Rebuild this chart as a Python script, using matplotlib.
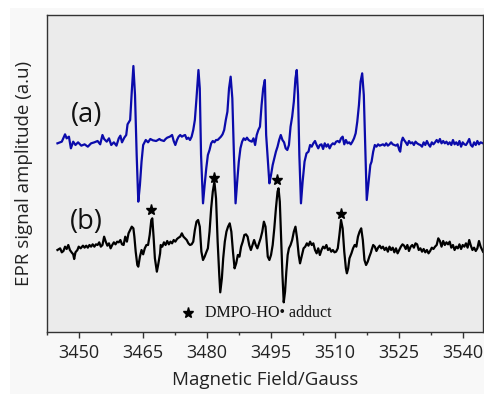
import matplotlib
matplotlib.use("Agg")
import matplotlib.pyplot as plt
from matplotlib.patches import Rectangle

plt.rcParams['font.family'] = ['Open Sans', 'DejaVu Sans']

# ---------------- data ----------------
tick_values = [3450, 3465, 3480, 3495, 3510, 3525, 3540]
series_labels = ["(a)", "(b)"]
legend_label = "DMPO-HO\u2022 adduct"

blue_field = [
    3444.95, 3445.97, 3446.73, 3447.11, 3447.64, 3448.10, 3448.64, 3449.17, 3449.78, 3450.54,
    3451.31, 3452.07, 3452.83, 3453.60, 3454.36, 3454.97, 3455.50, 3455.89, 3456.50, 3457.03,
    3457.56, 3458.17, 3458.78, 3459.32, 3459.70, 3460.08, 3460.62, 3461.07, 3461.38, 3461.99,
    3462.37, 3462.75, 3463.13, 3463.52, 3463.90, 3464.28, 3464.66, 3465.04, 3465.65, 3466.19,
    3466.72, 3467.33, 3468.09, 3468.86,
    3469.15, 3469.91, 3470.29, 3470.68, 3471.29, 3471.82, 3472.20, 3472.58, 3472.97, 3473.35,
    3473.73, 3474.11, 3474.49, 3474.87, 3475.25, 3475.64, 3476.02, 3476.40, 3476.78, 3477.16,
    3477.54, 3478.00, 3478.31, 3478.61, 3479.07, 3479.45, 3479.83, 3480.21, 3480.60, 3480.98,
    3481.36, 3481.74, 3482.12, 3482.50, 3482.88, 3483.27, 3483.65, 3484.03, 3484.41, 3484.79,
    3485.17, 3485.55, 3485.94, 3486.32, 3486.70, 3487.08, 3487.46, 3487.84, 3488.23, 3488.61,
    3488.99, 3489.37, 3489.75, 3490.13, 3490.51, 3490.90, 3491.28, 3491.66, 3492.04, 3492.42,
    3492.80, 3493.18, 3493.57,
    3493.87, 3494.63, 3495.01, 3495.40, 3495.78, 3496.16, 3496.54, 3496.92, 3497.30, 3497.69,
    3498.07, 3498.45, 3498.83, 3499.21, 3499.59, 3499.97, 3500.36, 3500.74, 3501.04, 3501.35,
    3501.65, 3502.03, 3502.42, 3502.87, 3503.33, 3503.79, 3504.17, 3504.55, 3504.93, 3505.32,
    3505.70, 3506.08, 3506.46, 3506.84, 3507.22, 3507.60, 3507.99, 3508.37, 3508.75, 3509.13,
    3509.51, 3509.89, 3510.27, 3510.66, 3511.04, 3511.42, 3511.80, 3512.18, 3512.56, 3512.95,
    3513.33, 3513.71, 3514.09, 3514.47, 3514.85, 3515.23, 3515.62, 3516.00, 3516.38, 3516.76,
    3517.14, 3517.45, 3517.90, 3518.29,
    3518.58, 3518.96, 3519.34, 3519.72, 3520.11, 3520.49, 3520.87, 3521.25, 3521.63, 3522.01,
    3522.40, 3522.78, 3523.16, 3523.54, 3523.92, 3524.30, 3524.68, 3525.07, 3525.29, 3525.60,
    3525.90, 3526.21, 3526.59, 3526.97, 3527.35, 3527.74, 3528.12, 3528.50, 3528.88, 3529.26,
    3529.64, 3530.03, 3530.41, 3530.79, 3531.17, 3531.55, 3531.93, 3532.31, 3532.70, 3533.08,
    3533.46, 3533.84, 3534.22, 3534.60, 3534.98, 3535.37, 3535.75, 3536.13, 3536.51, 3536.89,
    3537.27, 3537.66, 3538.04, 3538.42, 3538.80, 3539.18, 3539.56, 3539.94, 3540.33, 3540.71,
    3541.09, 3541.47, 3541.85, 3542.23, 3542.61, 3543.00, 3543.38, 3543.76, 3544.14, 3544.70,
]
blue_amp = [
    2, 7, 29, 17, 22, -13, 7, -3, 5, -5,
    -1, -8, 2, 5, 9, -1, 27, 15, 7, 17,
    -3, 5, -5, 17, 25, 5, 19, 27, 59, 72,
    157, 234, 147, -33, -173, -123, -53, -3, 12, 5,
    15, 11, 9, 15,
    12, 9, 15, 19, 22, 27, 9, -3, 12, 22,
    27, 22, 25, 27, 15, 19, 12, 22, 42, 72,
    137, 222, 167, -33, -178, -123, -73, -33, -18, 2,
    9, 5, 12, 12, 17, 22, 29, 42, 72, 97,
    167, 202, 137, -33, -178, -113, -53, -13, 7, 17,
    12, 19, 12, 9, 7, 17, -3, 27, 42, 52,
    117, 167, 192,
    27, -118, -93, -63, -43, -23, -8, 12, 27, 12,
    5, -13, -18, -3, 52, 82, 127, 197, 222, 147,
    -33, -178, -113, -53, -28, -23, -3, -8, 2, 9,
    -3, -13, -3, -1, -15, 2, -8, -1, -13, -3,
    2, -1, 7, 9, 5, 17, 22, -1, 12, 2,
    5, -1, 7, 17, 32, 67, 117, 187, 212, 147,
    -33, -168, -113, -63,
    -53, -23, -3, -8, -1, -5, -3, -1, -5, 2,
    -5, -1, 5, -1, -3, -5, -1, -18, -23, 7,
    19, 12, 5, -3, 9, 2, 5, -3, 7, 2,
    -1, -3, -8, 5, -3, 9, -1, -8, 5, -1,
    5, 12, 5, 15, 2, 9, 2, 7, -1, 5,
    -3, 12, -1, 5, -3, 9, -8, 5, -1, -3,
    5, 15, -3, -8, 5, -3, 9, -1, 5, 2,
]

black_field = [
    3444.95, 3445.58, 3445.97, 3446.35, 3446.73, 3447.11, 3447.49, 3447.87, 3448.26, 3448.64,
    3448.87, 3449.17, 3449.63, 3449.93, 3450.39, 3450.93, 3451.31, 3451.69, 3452.07, 3452.45,
    3452.83, 3453.21, 3453.60, 3453.98, 3454.36, 3454.74, 3455.12, 3455.50, 3455.89, 3456.27,
    3456.65, 3457.03, 3457.41, 3457.79, 3458.17, 3458.56, 3458.94, 3459.32, 3459.70, 3460.08,
    3460.46, 3460.84, 3461.23, 3461.61, 3461.99, 3462.37, 3462.75, 3462.98, 3463.29, 3463.67,
    3463.90, 3464.28, 3464.66, 3465.04, 3465.42, 3465.80, 3466.19, 3466.57, 3466.95, 3467.18,
    3467.48, 3467.79, 3468.25, 3468.55, 3469.01,
    3469.15, 3469.53, 3469.91, 3470.29, 3470.68, 3471.06, 3471.44, 3471.82, 3472.20, 3472.58,
    3472.97, 3473.35, 3473.73, 3474.11, 3474.49, 3474.87, 3475.25, 3475.64, 3476.02, 3476.40,
    3476.78, 3477.16, 3477.54, 3477.92, 3478.31, 3478.69, 3479.07, 3479.45, 3479.83, 3480.21,
    3480.60, 3480.98, 3481.36, 3481.74, 3482.12, 3482.50, 3482.88, 3483.11, 3483.49, 3483.80,
    3484.18, 3484.56, 3484.94, 3485.33, 3485.71, 3486.09, 3486.47, 3486.85, 3487.23, 3487.61,
    3488.00, 3488.38, 3488.76, 3489.14, 3489.52, 3489.90, 3490.29, 3490.67, 3491.05, 3491.43,
    3491.81, 3492.19, 3492.57, 3492.96, 3493.34, 3493.72,
    3494.25, 3494.63, 3495.01, 3495.40, 3495.78, 3496.16, 3496.54, 3496.77, 3497.07, 3497.38,
    3497.69, 3497.99, 3498.30, 3498.60, 3498.91, 3499.21, 3499.59, 3499.97, 3500.36, 3500.74,
    3501.12, 3501.50, 3501.81, 3502.26, 3502.64, 3503.03, 3503.41, 3503.79, 3504.17, 3504.55,
    3504.93, 3505.32, 3505.70, 3506.08, 3506.46, 3506.84, 3507.22, 3507.60, 3507.99, 3508.37,
    3508.75, 3509.13, 3509.51, 3509.89, 3510.27, 3510.66, 3511.04, 3511.42, 3511.80, 3512.18,
    3512.56, 3512.79, 3513.10, 3513.40, 3513.86, 3514.24, 3514.62, 3515.01, 3515.39, 3515.77,
    3516.15, 3516.53, 3516.91, 3517.29, 3517.68, 3518.06, 3518.44,
    3518.58, 3518.96, 3519.34, 3519.72, 3520.11, 3520.49, 3520.87, 3521.25, 3521.63, 3522.01,
    3522.40, 3522.78, 3523.16, 3523.54, 3523.92, 3524.30, 3524.68, 3525.07, 3525.45, 3525.83,
    3526.21, 3526.59, 3526.97, 3527.35, 3527.74, 3528.12, 3528.50, 3528.88, 3529.26, 3529.64,
    3530.03, 3530.41, 3530.79, 3531.17, 3531.55, 3531.93, 3532.31, 3532.70, 3533.08, 3533.46,
    3533.84, 3534.22, 3534.60, 3534.98, 3535.37, 3535.75, 3536.13, 3536.51, 3536.89, 3537.27,
    3537.66, 3538.04, 3538.42, 3538.80, 3539.18, 3539.56, 3539.94, 3540.33, 3540.71, 3541.09,
    3541.47, 3541.85, 3542.23, 3542.61, 3543.00, 3543.38, 3543.76, 3544.14, 3544.70,
]
black_amp = [
    0, 5, -7, -3, 10, 3, 15, 0, -7, -13,
    -27, -7, 0, 10, 5, 13, 7, 13, 7, 15,
    10, 17, 10, 17, 15, 23, 10, 15, 40, 25,
    13, 20, 5, 15, 23, 17, 25, 23, 30, 17,
    15, 40, 25, 50, 60, 70, 65, 40, -5, -45,
    -50, -20, 0, -13, 5, 15, 15, 45, 90, 95,
    40, -25, -65, -45, -10,
    15, 10, 23, 15, 27, 17, 25, 20, 30, 25,
    33, 37, 40, 50, 40, 35, 30, 20, 15, 17,
    25, 60, 85, 90, 70, -5, -30, -20, -7, 5,
    55, 125, 175, 205, 155, 25, -75, -127, -85, -25,
    25, 55, 70, 80, 55, -5, -55, -40, -15, -20,
    10, 25, 45, 47, 40, 15, 0, 15, 30, 15,
    5, 20, 35, 55, 85, 70,
    -20, -30, -15, 15, 65, 125, 175, 185, 145, 35,
    -75, -157, -125, -65, -15, 5, 15, 30, 55, 70,
    35, -15, -40, -15, 5, 10, 20, 13, 25, 15,
    20, 0, -10, 5, -15, 0, 10, 5, 15, 0,
    5, -5, 0, -7, -5, 5, 45, 90, 65, -5,
    -55, -70, -55, -25, -10, 5, 15, 10, 40, 55,
    65, 30, -30, -45, -35, -20, -7,
    0, 15, 10, -3, 7, 13, 5, 10, 0, 7,
    -5, 10, 0, 7, -7, 5, -10, 0, 10, 17,
    13, 3, 15, -3, 10, 15, 7, 20, 17, 0,
    5, -5, 3, -7, 0, -10, -3, 7, 3, 10,
    15, 35, 27, 10, 27, 15, 23, 17, 25, 7,
    15, 0, 10, 5, 17, 3, 15, 10, 20, 7,
    30, 13, 0, 7, -3, 5, 27, 10, -5,
]

star_field = [3466.80, 3481.74, 3496.39, 3511.33]
star_amp = [120, 215, 210, 107]

# ---------------- figure ----------------
W, H, DPI = 485, 394, 100
fig = plt.figure(figsize=(W / DPI, H / DPI), dpi=DPI, facecolor="white")
fig.patches.append(Rectangle((10 / W, 0), 1 - 10 / W, 1 - 8 / H, transform=fig.transFigure,
                             facecolor="#f8f8f8", edgecolor="none", zorder=-10))

ax = fig.add_axes([47 / W, 1 - 332 / H, (483 - 47) / W, (332 - 15) / H])
ax.set_facecolor("#ebebeb")

blue_offset = 564
black_offset = 246

ax.plot(blue_field, [blue_offset + v for v in blue_amp], color="#0b0bab", lw=1.6,
        solid_joinstyle="round")
ax.plot(black_field, [black_offset + v for v in black_amp], color="#000000", lw=1.6,
        solid_joinstyle="round")
ax.plot(star_field, [black_offset + v for v in star_amp], linestyle="none", marker="*",
        color="black", markersize=8)

ax.text(3451.76, 650, series_labels[0], fontsize=19.5, ha="center", va="center", color="#111111")
ax.text(3451.76, 330, series_labels[1], fontsize=19.5, ha="center", va="center", color="#111111")

# legend-like annotation
ax.plot([3475.56], [57], linestyle="none", marker="*", color="black", markersize=8)
ax.text(3479.45, 57, legend_label, fontsize=11.5, ha="left", va="center",
        family=["Liberation Serif", "DejaVu Serif"], color="#111111")

ax.set_xlim(3444.9, 3544.7)
ax.set_ylim(0, 951)
ax.set_xticks(tick_values)
ax.set_xticklabels([str(t) for t in tick_values])
ax.set_xticks([t + 7.5 for t in tick_values[:-1]] + [3442.5], minor=True)
ax.set_yticks([])
ax.tick_params(axis="x", which="major", direction="out", length=4, width=1, labelsize=13,
               pad=5, colors="#333333", labelcolor="#222222")
ax.tick_params(axis="x", which="minor", direction="out", length=2.5, width=1, colors="#333333")
for s in ax.spines.values():
    s.set_color("#333333")
    s.set_linewidth(1.0)

ax.set_xlabel("Magnetic Field/Gauss", fontsize=13.5, color="#222222", labelpad=6)
ax.set_ylabel("EPR signal amplitude (a.u)", fontsize=13.5, color="#222222", labelpad=10)

fig.savefig("out.png", dpi=DPI, facecolor=fig.get_facecolor())
